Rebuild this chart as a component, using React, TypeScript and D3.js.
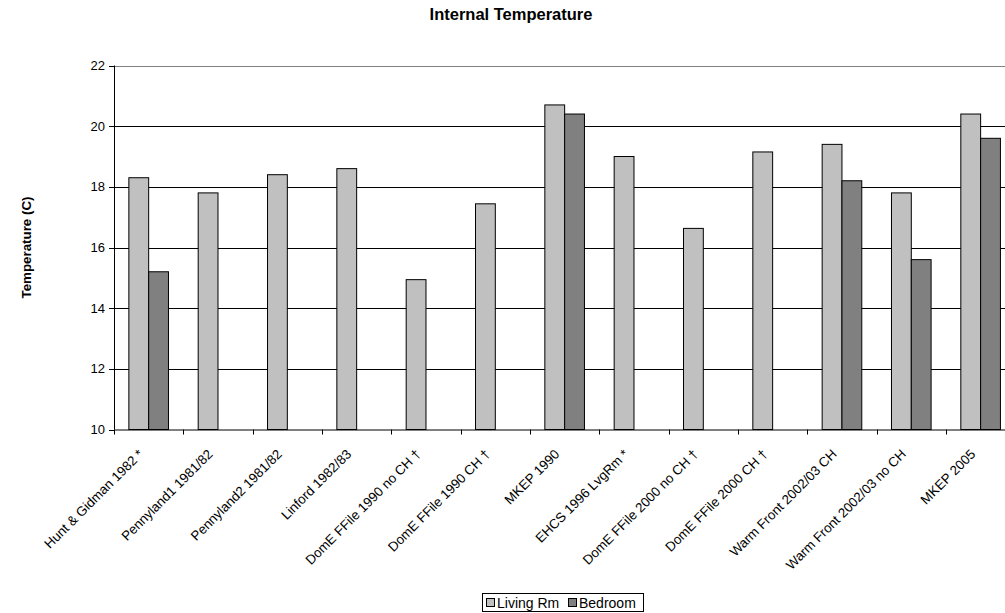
import React from "react";
import * as d3 from "d3";

const categories = [
  "Hunt & Gidman 1982 *",
  "Pennyland1 1981/82",
  "Pennyland2 1981/82",
  "Linford 1982/83",
  "DomE FFile 1990 no CH †",
  "DomE FFile 1990 CH †",
  "MKEP 1990",
  "EHCS 1996 LvgRm *",
  "DomE FFile 2000 no CH †",
  "DomE FFile 2000 CH †",
  "Warm Front  2002/03 CH",
  "Warm Front 2002/03 no CH",
  "MKEP 2005",
];
const livingRm: (number | null)[] = [18.3, 17.8, 18.4, 18.6, 14.94, 17.44, 20.7, 19.0, 16.63, 19.15, 19.4, 17.8, 20.4];
const bedroom: (number | null)[] = [15.2, null, null, null, null, null, 20.4, null, null, null, 18.2, 15.6, 19.6];
const seriesNames = ["Living Rm", "Bedroom"];
const seriesColors = ["#C0C0C0", "#808080"];
const yTicks = [10, 12, 14, 16, 18, 20, 22];

const W = 1005;
const H = 613;
const left = 114;
const top = 65.5;
const bottom = 429.5;
const step = 69.33;
const font = "'Liberation Sans', Arial, sans-serif";

export default function App() {
  const x = d3.scaleBand<string>().domain(categories).range([left, left + step * categories.length]).padding(0);
  const xs = d3.scaleBand<string>().domain(seriesNames).range([0, x.bandwidth()]).paddingInner(0).paddingOuter(0.75);
  const y = d3.scaleLinear().domain([10, 22]).range([bottom, top]);
  const series = [livingRm, bedroom];
  const right = W + 10;
  const legendX = [486, 568];

  return (
    <svg width={W} height={H} style={{ position: "absolute", left: 0, top: 0, background: "#fff" }}>
      <rect x={0} y={0} width={W} height={H} fill="#fff" />
      <text x={511} y={20} textAnchor="middle" fontFamily={font} fontWeight="bold" fontSize={16.5}>
        Internal Temperature
      </text>
      {yTicks.map((t) => (
        <g key={t}>
          {t !== 10 && (
            <line x1={left} x2={right} y1={Math.round(y(t)) + 0.5} y2={Math.round(y(t)) + 0.5} stroke={t === 22 ? "#808080" : "#000"} strokeWidth={1} />
          )}
          <line x1={left - 5} x2={left} y1={Math.round(y(t)) + 0.5} y2={Math.round(y(t)) + 0.5} stroke="#000" />
          <text x={left - 9} y={y(t)} dy="0.35em" textAnchor="end" fontFamily={font} fontSize={13}>
            {t}
          </text>
        </g>
      ))}
      {categories.map((c, i) =>
        series.map((s, j) => {
          const v = s[i];
          if (v == null) return null;
          const bx = (x(c) as number) + (xs(seriesNames[j]) as number);
          return (
            <rect key={c + j} x={bx} y={y(v)} width={xs.bandwidth()} height={bottom - y(v)} fill={seriesColors[j]} stroke="#000" strokeWidth={1} />
          );
        })
      )}
      <line x1={left + 0.5} x2={left + 0.5} y1={top} y2={bottom} stroke="#000" />
      <line x1={left} x2={right} y1={bottom + 0.5} y2={bottom + 0.5} stroke="#000" />
      {categories.map((c, i) => (
        <line key={"t" + i} x1={Math.round(x(c) as number) + 0.5} x2={Math.round(x(c) as number) + 0.5} y1={bottom} y2={bottom + 5} stroke="#000" />
      ))}
      {categories.map((c) => {
        const cx = (x(c) as number) + x.bandwidth() / 2;
        return (
          <text key={"l" + c} transform={`translate(${cx - 4.5},455) rotate(-45)`} textAnchor="end" fontFamily={font} fontSize={13.33}>
            {c}
          </text>
        );
      })}
      <text transform={`translate(31,${(top + bottom) / 2}) rotate(-90)`} textAnchor="middle" fontFamily={font} fontWeight="bold" fontSize={13.33}>
        Temperature (C)
      </text>
      <g>
        <rect x={482.5} y={593.5} width={161} height={18} fill="#fff" stroke="#000" />
        {seriesNames.map((n, j) => {
          const lx = legendX[j];
          return (
            <g key={n}>
              <rect x={lx + 0.5} y={598.5} width={8} height={8} fill={seriesColors[j]} stroke="#000" />
              <text x={lx + 11} y={607.5} fontFamily={font} fontSize={14}>
                {n}
              </text>
            </g>
          );
        })}
      </g>
    </svg>
  );
}
